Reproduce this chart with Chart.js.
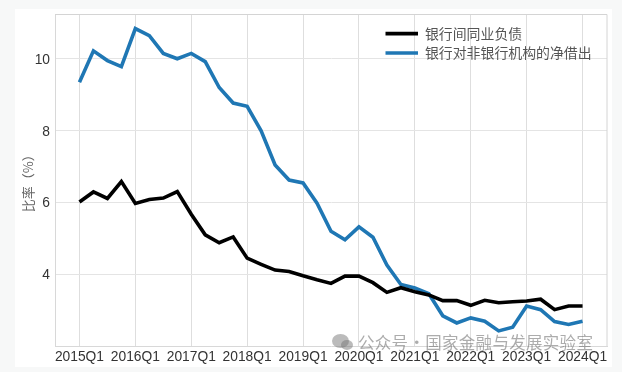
<!DOCTYPE html>
<html lang="zh">
<head>
<meta charset="utf-8">
<style>
html,body{margin:0;padding:0;width:622px;height:372px;background:#f7f8f8;overflow:hidden}
#card{position:absolute;left:15px;top:9px;width:597px;height:358px;background:#fff}
#wrap{position:absolute;left:0;top:0;width:622px;height:372px}
#mark{position:absolute;left:358px;top:331px;font:16.5px "Noto Sans CJK SC";letter-spacing:.3px;word-spacing:-4px;color:rgba(90,90,90,.5);white-space:nowrap;line-height:22px}
.b{position:absolute;background:rgba(120,120,120,.5);border-radius:50%}
</style>
<script src="https://cdn.jsdelivr.net/npm/chart.js@4"></script>
</head>
<body>
<div id="card"></div>
<div id="wrap"><canvas id="c" width="622" height="372"></canvas></div>
<div class="b" style="left:332px;top:334px;width:17px;height:14px"></div>
<div class="b" style="left:341px;top:340px;width:12px;height:10px"></div>
<div id="mark">公众号 · 国家金融与发展实验室</div>
<script>
const quarters = ["2015Q1","2015Q2","2015Q3","2015Q4","2016Q1","2016Q2","2016Q3","2016Q4","2017Q1","2017Q2","2017Q3","2017Q4","2018Q1","2018Q2","2018Q3","2018Q4","2019Q1","2019Q2","2019Q3","2019Q4","2020Q1","2020Q2","2020Q3","2020Q4","2021Q1","2021Q2","2021Q3","2021Q4","2022Q1","2022Q2","2022Q3","2022Q4","2023Q1","2023Q2","2023Q3","2023Q4","2024Q1"];
const interbankLiabilities = [6.01,6.29,6.11,6.58,5.97,6.08,6.12,6.3,5.67,5.1,4.88,5.04,4.45,4.28,4.12,4.08,3.96,3.85,3.75,3.95,3.95,3.77,3.5,3.63,3.52,3.43,3.27,3.27,3.14,3.28,3.21,3.24,3.26,3.31,3.02,3.12,3.12];
const netLendingToNonBanks = [9.34,10.21,9.94,9.77,10.83,10.63,10.14,9.99,10.14,9.91,9.19,8.76,8.67,7.99,7.04,6.62,6.54,5.98,5.2,4.96,5.32,5.03,4.26,3.72,3.62,3.46,2.85,2.65,2.79,2.7,2.43,2.53,3.12,3.02,2.69,2.61,2.7];
const seriesNames = ["银行间同业负债","银行对非银行机构的净借出"];
const yTicks = [4,6,8,10];
const xTickIndexes = [0,4,8,12,16,20,24,28,32,36];
const yTitle = "比率（%）";

const toPoints = a => a.map((v,i)=>({x:i,y:v}));
const placeLegend = {
  id:'placeLegend',
  beforeDraw(chart){
    const l = chart.legend;
    l.left = 380; l.right = 380 + l.width; l.top = 21.2; l.bottom = l.top + l.height;
  }
};
function nudgeLabels(scale,dy){
  const orig = scale.getLabelItems;
  scale.getLabelItems = function(a){
    return orig.call(this,a).map(i=>{
      const t = i.options.translation;
      return Object.assign({},i,{options:Object.assign({},i.options,{translation:[t[0],t[1]+dy]})});
    });
  };
}
new Chart(document.getElementById('c'),{
  type:'line',
  data:{datasets:[
    {label:seriesNames[0],data:toPoints(interbankLiabilities),borderColor:'#000',backgroundColor:'#000',borderWidth:3.6,pointRadius:0,tension:0,borderJoinStyle:'miter'},
    {label:seriesNames[1],data:toPoints(netLendingToNonBanks),borderColor:'#1f77b4',backgroundColor:'#1f77b4',borderWidth:3.6,pointRadius:0,tension:0,borderJoinStyle:'miter'}
  ]},
  options:{
    responsive:false,animation:false,
    layout:{padding:{left:20,right:15,top:14.5,bottom:0}},
    plugins:{
      tooltip:{enabled:false},
      legend:{
        position:'chartArea',align:'start',
        labels:{
          usePointStyle:true,pointStyle:'line',pointStyleWidth:32.5,boxHeight:4,padding:5.5,
          color:'#555',font:{family:'"Noto Sans CJK SC"',size:13.9,lineHeight:1.2},
          generateLabels(chart){
            return chart.data.datasets.map((d,i)=>({text:d.label,strokeStyle:d.borderColor,fillStyle:d.borderColor,lineWidth:3.6,pointStyle:'line',datasetIndex:i,fontColor:'#555'}));
          }
        }
      }
    },
    scales:{
      x:{
        type:'linear',min:-1.75,max:37.75,
        afterBuildTicks(s){s.ticks = xTickIndexes.map(v=>({value:v}));},
        afterFit(s){s.height = 26;},
        grid:{color:'#dedede',lineWidth:1,drawTicks:false},
        border:{color:'#d8d8d8',width:1},
        ticks:{autoSkip:false,maxRotation:0,minRotation:0,padding:3,color:'#333',font:{family:'"Liberation Sans"',size:13.8},callback:v=>quarters[v]}
      },
      y:{
        min:2.01,max:11.22,
        afterBuildTicks(s){s.ticks = yTicks.map(v=>({value:v})); if(!s._nudged){s._nudged=true;nudgeLabels(s,1.3);}},
        afterFit(s){s.width = 35;},
        grid:{color:'#e4e4e4',lineWidth:1,drawTicks:false},
        border:{color:'#d8d8d8',width:1},
        ticks:{padding:5,color:'#333',font:{family:'"Liberation Sans"',size:13.8},callback:v=>String(v)},
        title:{display:true,text:yTitle,color:'#666',align:'center',padding:{top:0,bottom:0},font:{family:'"Noto Sans CJK SC"',size:13}}
      }
    }
  },
  plugins:[placeLegend,{
    id:'frame',
    afterDraw(chart){
      const a = chart.chartArea, g = chart.ctx;
      g.save();g.strokeStyle='#d4d4d4';g.lineWidth=1;
      g.beginPath();g.moveTo(a.left,a.top);g.lineTo(a.right,a.top);g.lineTo(a.right,a.bottom);g.stroke();g.restore();
    }
  }]
});
</script>
</body>
</html>
